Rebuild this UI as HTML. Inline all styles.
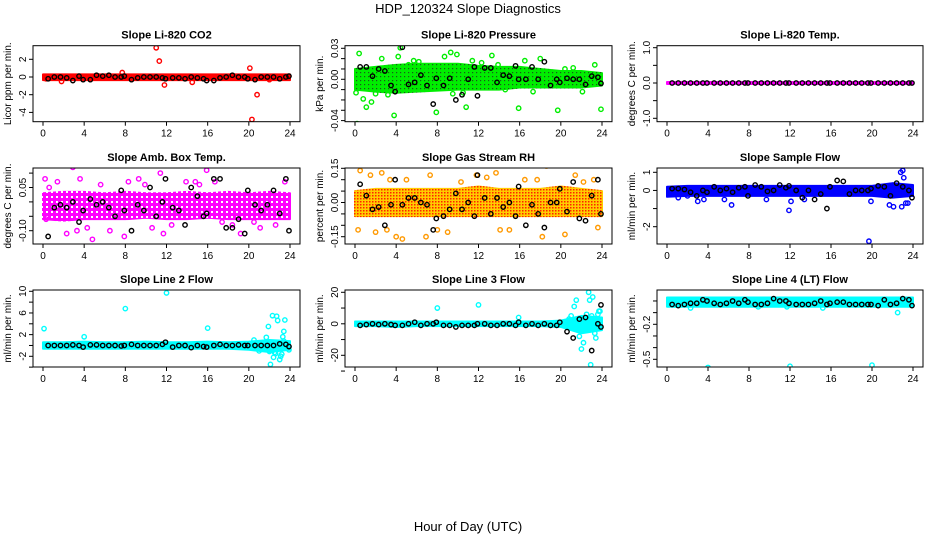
<!DOCTYPE html>
<html><head><meta charset="utf-8"><style>
body{margin:0;background:#fff}
svg{display:block;font-family:"Liberation Sans",Arial,sans-serif}
</style></head><body>
<svg id="chart" width="936" height="540" viewBox="0 0 936 540">
<defs>
<pattern id="pat-green" width="4" height="4" patternUnits="userSpaceOnUse"><rect width="4" height="4" fill="#00ee00"/><rect x="0" y="0" width="1.2" height="1.2" fill="#1a5a1a"/></pattern>
<pattern id="pat-mag" width="5" height="5" patternUnits="userSpaceOnUse"><rect width="5" height="5" fill="#ff00ff"/><rect x="1" y="1" width="2" height="2" fill="#fff"/></pattern>
<pattern id="pat-rh" width="3" height="3" patternUnits="userSpaceOnUse"><rect width="3" height="3" fill="#ffcc00"/><rect x="0" y="0" width="1.5" height="1.5" fill="#ff2200"/></pattern>
</defs>
<rect width="936" height="540" fill="#fff"/>
<text x="468" y="13" text-anchor="middle" font-size="13">HDP_120324  Slope Diagnostics</text>
<text x="468" y="531" text-anchor="middle" font-size="13">Hour of Day (UTC)</text>
</svg>
<script>
const blackHours=[0.5,1.1,1.7,2.3,2.9,3.5,3.9,4.6,5.2,5.8,6.4,7.0,7.6,7.9,8.6,9.2,9.8,10.4,11.0,11.6,11.9,12.6,13.2,13.8,14.4,15.0,15.6,15.9,16.6,17.2,17.8,18.4,19.0,19.6,19.9,20.6,21.2,21.8,22.4,23.0,23.6,23.9];
const bandHours=[0,2,4,6,8,10,12,14,16,18,20,22,24];
const xTicks=[0,4,8,12,16,20,24];

const co2Black=[-0.2,0,0,-0.1,-0.4,0.1,-0.3,-0.3,0.2,0.1,0.2,0,0,0.1,-0.3,-0.1,0,0,0,-0.1,-0.2,-0.1,-0.1,-0.2,0,-0.1,-0.2,-0.4,-0.4,-0.1,0,0.2,0,0,-0.2,-0.3,0,0,0,-0.2,0,0.1];
const co2Lo=[-0.35,-0.35,-0.35,-0.35,-0.35,-0.35,-0.35,-0.35,-0.35,-0.35,-0.35,-0.35,-0.35];
const co2Hi=[0.3,0.3,0.3,0.3,0.3,0.3,0.3,0.3,0.3,0.3,0.3,0.3,0.3];
const co2OutX=[11.0,11.3,11.8,20.1,20.8,20.3,1.8,14.5,7.7,22.0,0.3];
const co2OutY=[3.3,1.8,-0.9,1.0,-2.0,-4.8,-0.5,-0.6,0.5,-0.3,-0.2];

const presBlack=[0.012,0.012,0.003,0.01,0.008,-0.006,-0.012,0.031,-0.005,-0.003,0.004,-0.006,-0.024,0.001,-0.006,0.001,-0.02,-0.015,0.0,0.012,-0.016,0.011,0.011,-0.003,0.004,0.003,0.013,0.0,0.0,0.012,0.0,0.017,-0.006,0.0,-0.003,0.001,0.0,0.0,-0.005,0.003,0.002,-0.004];
const presLo=[-0.01,-0.012,-0.013,-0.012,-0.011,-0.01,-0.01,-0.01,-0.008,-0.008,-0.008,-0.008,-0.006];
const presHi=[0.01,0.012,0.014,0.015,0.015,0.015,0.013,0.012,0.012,0.01,0.008,0.008,0.006];
const presOutX=[0.2,0.4,0.8,1.1,1.6,2.6,3.2,3.8,4.2,4.4,5.7,7.0,7.9,8.7,9.3,9.9,10.8,11.4,12.3,13.3,15.9,16.5,18.0,19.7,20.4,22.1,23.3,23.9,0.1,5.2,9.5,14.6,2.0,6.2,10.5,13.9,17.3,21.2];
const presOutY=[-0.043,0.025,-0.019,-0.027,-0.022,0.02,-0.015,-0.035,0.022,0.0305,0.018,0.01,-0.032,0.022,0.026,0.024,-0.027,0.018,0.016,0.023,-0.028,0.018,0.02,-0.03,0.01,-0.012,0.014,-0.029,-0.013,0.014,-0.014,-0.01,-0.014,0.017,-0.013,0.014,-0.012,0.011];

const tempBlack=[0,0,0,0,0,0,0,0,0,0,0,0,0,0,0,0,0,0,0,0,0,0,0,0,0,0,0,0,0,0,0,0,0,0,0,0,0,0,0,0,0,0];
const tempLo=[-0.03,-0.03,-0.03,-0.03,-0.03,-0.03,-0.03,-0.03,-0.03,-0.03,-0.03,-0.03,-0.03];
const tempHi=[0.03,0.03,0.03,0.03,0.03,0.03,0.03,0.03,0.03,0.03,0.03,0.03,0.03];
const tempOutX=[];
const tempOutY=[];

const ambBlack=[-0.12,-0.02,-0.01,-0.02,0.0,-0.07,-0.03,0.01,-0.01,0.0,-0.02,-0.05,0.04,-0.03,-0.1,-0.01,-0.03,0.05,-0.05,0.0,0.08,-0.02,-0.03,-0.08,0.05,0.02,-0.05,-0.04,0.08,0.08,-0.09,-0.09,-0.06,-0.11,0.04,-0.01,-0.03,-0.01,0.04,-0.04,0.08,-0.1];
const ambLo=[-0.06,-0.065,-0.06,-0.06,-0.06,-0.055,-0.06,-0.06,-0.055,-0.06,-0.06,-0.06,-0.06];
const ambHi=[0.03,0.035,0.035,0.03,0.035,0.03,0.03,0.035,0.03,0.035,0.03,0.035,0.03];
const ambOutX=[0.2,0.6,1.4,2.3,2.9,3.3,3.6,4.3,4.8,6.5,7.9,8.3,9.3,10.6,11.4,11.7,12.5,13.9,14.8,15.9,16.7,17.4,18.4,19.2,20.5,21.1,22.6,23.5,5.6,9.9,15.2,0.3];
const ambOutY=[0.08,0.05,0.07,-0.11,0.12,-0.1,0.08,-0.09,-0.13,-0.1,-0.12,0.07,0.08,-0.09,0.1,-0.11,-0.08,0.07,0.07,0.11,0.07,-0.07,-0.08,-0.11,-0.07,-0.09,-0.08,0.07,0.06,0.06,0.06,-0.06];

const rhBlack=[0.08,0.03,-0.03,-0.02,-0.1,-0.01,0.1,-0.01,0.02,0.02,0.0,-0.01,-0.12,-0.07,-0.06,-0.03,0.04,-0.03,0.0,-0.06,0.12,0.02,-0.05,0.02,-0.02,0.0,-0.06,0.07,-0.1,-0.01,-0.05,-0.11,0.0,0.0,0.06,-0.04,0.09,-0.07,-0.08,0.03,0.1,-0.05];
const rhLo=[-0.06,-0.06,-0.06,-0.06,-0.06,-0.06,-0.06,-0.06,-0.06,-0.06,-0.06,-0.06,-0.06];
const rhHi=[0.05,0.06,0.06,0.06,0.06,0.06,0.07,0.06,0.06,0.06,0.07,0.06,0.05];
const rhOutX=[0.3,0.5,1.5,2.0,2.6,3.1,3.4,4.0,4.6,5.0,6.9,7.3,8.0,9.0,10.3,11.8,12.8,13.7,14.1,15.0,16.5,16.6,17.7,18.2,18.6,20.4,21.4,22.2,23.2,23.6];
const rhOutY=[-0.12,0.14,0.12,-0.13,0.13,-0.12,0.1,-0.15,-0.16,0.1,-0.15,0.12,-0.12,-0.13,0.09,0.12,0.11,0.13,-0.12,-0.12,0.1,-0.21,0.1,-0.15,0.16,-0.14,0.12,0.09,0.1,-0.11];

const sfBlack=[0.1,0.1,0.05,-0.1,-0.3,0.0,-0.1,0.2,0.0,0.1,-0.1,0.15,0.2,-0.3,0.3,0.2,-0.05,0.0,0.3,0.15,0.25,0.0,-0.4,0.0,-0.5,-0.2,-1.0,0.2,0.55,0.5,-0.2,0.0,0.0,0.0,0.1,0.25,0.2,-0.3,0.4,0.2,0.0,-0.4];
const sfLo=[-0.35,-0.3,-0.3,-0.3,-0.3,-0.3,-0.3,-0.3,-0.3,-0.3,-0.3,-0.4,-0.3];
const sfHi=[0.2,0.25,0.25,0.25,0.25,0.25,0.25,0.25,0.25,0.25,0.25,0.4,0.3];
const sfOutX=[3.0,3.6,5.6,6.3,9.7,11.9,12.1,13.4,19.7,19.9,21.7,22.1,22.8,22.9,23.1,23.0,23.3,23.5,1.1,2.0];
const sfOutY=[-0.6,-0.5,-0.5,-0.8,-0.5,-1.1,-0.6,-0.5,-2.8,-0.6,-0.8,-0.9,1.0,-0.9,0.7,1.1,-0.7,-0.7,-0.4,-0.3];

const l2Black=[0,0,0,0,0.1,0,-0.3,0.1,0.1,0,0,0,-0.1,0,0.2,0,0,0,0,0.2,0.6,-0.3,0,0,-0.4,0,-0.2,-0.3,0,0.2,0,0,0.1,0,0,0,0,0,0,0.3,0.2,-0.2];
const l2Lo=[-0.6,-0.6,-0.6,-0.6,-0.6,-0.6,-0.6,-0.6,-0.6,-0.6,-0.8,-1.2,-0.8];
const l2Hi=[0.6,0.6,0.7,0.6,0.6,0.7,0.6,0.6,0.7,0.6,0.7,1.0,0.8];
const l2OutX=[0.1,4.0,8.0,12.0,16.0,20.5,21.7,21.9,22.1,22.3,22.4,22.6,22.7,22.8,23.0,23.1,23.3,23.4,23.5,23.4,23.7,23.9,22.5,22.9,23.2,22.0,21.0];
const l2OutY=[3.1,1.6,6.8,9.7,3.2,1.0,1.5,3.5,-3.5,5.5,-2.2,-1.5,5.4,4.6,-2.6,-2.0,1.6,2.6,4.7,0.8,-0.2,-0.8,-1.3,0.3,-1.6,-1.1,-1.0];

const l3Black=[-1,-0.5,0,-0.5,0,-0.5,-1,-1,0,1,-1,0,0,1,-1,-1,-2,-1,-1,-1,0,0,-1,-1,0,0,-1,1,-1,0,-1,0,-1,-1,1,-5,-9,3,4,-17,0,-2];
const l3Lo=[-1.5,-1.5,-2,-1.5,-1.5,-1.5,-1.5,-1.5,-1.5,-1.5,-2,-6,-4];
const l3Hi=[1.5,1.5,1.5,1.5,1.5,1.5,1.5,1.5,1.5,1.5,2,5,4];
const l3OutX=[8.0,12.0,15.9,21.0,21.3,21.5,21.8,22.0,22.2,22.5,22.7,22.8,22.9,23.0,23.1,23.3,23.4,23.6,23.7,23.8,21.6,22.3,20.8];
const l3OutY=[10,12,4,5,11,15,-8,-16,-12,6,20,15,-26,5,17,-6,-9,6,8,8,-2,-4,3];

const l4Black=[-0.03,-0.04,-0.03,-0.02,-0.02,0.01,0,-0.02,-0.03,-0.02,0.0,-0.02,0.01,-0.01,-0.03,-0.03,-0.02,0.02,0.0,0.0,-0.02,-0.03,-0.03,-0.03,-0.02,0.0,-0.03,-0.02,-0.01,-0.01,-0.03,-0.03,-0.03,-0.03,-0.03,-0.04,0.01,-0.03,-0.02,0.02,0.01,-0.04];
const l4Lo=[-0.05,-0.05,-0.05,-0.05,-0.05,-0.05,-0.05,-0.05,-0.05,-0.05,-0.05,-0.05,-0.05];
const l4Hi=[0.03,0.03,0.03,0.03,0.03,0.03,0.03,0.03,0.03,0.03,0.03,0.03,0.03];
const l4OutX=[2.3,4.0,12.0,20.0,22.5,11.7,15.2,8.9];
const l4OutY=[-0.06,-0.57,-0.56,-0.55,-0.1,-0.05,-0.06,-0.05];

const NS='http://www.w3.org/2000/svg';
const svg=document.getElementById('chart');
function mk(tag,attrs,parent){const e=document.createElementNS(NS,tag);for(const k in attrs)e.setAttribute(k,attrs[k]);(parent||svg).appendChild(e);return e;}

const colL=[33,345,657],colR=[300,612,923],colX0=[43,355,667],colX24=[290,602,913];
const rowT=[45.7,168,290],rowB=[121.7,244,367];

const panels=[
 ['Slope Li-820 CO2','Licor ppm per min.',0,0,0,77,2,59.3,[-4,-2,0,2],['-4','-2','0','2'],'#ff0000','#ff0000',co2Black,co2Lo,co2Hi,co2OutX,co2OutY,'co2'],
 ['Slope Li-820 Pressure','kPa per min.',1,0,0.03,48.3,-0.04,120.6,[-0.04,-0.03,-0.02,-0.01,0,0.01,0.02,0.03],['-0.04','','','','0.00','','','0.03'],'#00ee00','url(#pat-green)',presBlack,presLo,presHi,presOutX,presOutY,'pressure'],
 ['Slope Li-820 Temp.','degrees C per min.',2,0,1,47.7,-1,118.3,[-1,-0.5,0,0.5,1],['-1.0','','0.0','','1.0'],'#ff00ff','#ff00ff',tempBlack,tempLo,tempHi,tempOutX,tempOutY,'temp'],
 ['Slope Amb. Box Temp.','degrees C per min.',0,1,0.05,187.5,-0.1,230.7,[-0.1,-0.05,0,0.05,0.1],['-0.10','','','0.05',''],'#ff00ff','url(#pat-mag)',ambBlack,ambLo,ambHi,ambOutX,ambOutY,'amb-temp'],
 ['Slope Gas Stream RH','percent per min.',1,1,0.15,168.3,-0.15,236.7,[-0.15,-0.1,-0.05,0,0.05,0.1,0.15],['-0.15','','','0.00','','','0.15'],'#ff9900','url(#pat-rh)',rhBlack,rhLo,rhHi,rhOutX,rhOutY,'rh'],
 ['Slope Sample Flow','ml/min per min.',2,1,1,172.3,-2,226.7,[-2,-1,0,1],['-2','','0','1'],'#0000ff','#0000ff',sfBlack,sfLo,sfHi,sfOutX,sfOutY,'sample-flow'],
 ['Slope Line 2 Flow','ml/min per min.',0,2,10,291.3,-2,356.3,[-4,-2,0,2,4,6,8,10],['','-2','','2','','6','','10'],'#00ffff','#00ffff',l2Black,l2Lo,l2Hi,l2OutX,l2OutY,'line2-flow'],
 ['Slope Line 3 Flow','ml/min per min.',1,2,20,292.3,-20,355.3,[-30,-20,-10,0,10,20],['','-20','','0','','20'],'#00ffff','#00ffff',l3Black,l3Lo,l3Hi,l3OutX,l3OutY,'line3-flow'],
 ['Slope Line 4 (LT) Flow','ml/min per min.',2,2,-0.2,324.3,-0.5,359.3,[-0.5,-0.4,-0.3,-0.2,-0.1,0],['-0.5','','','-0.2','',''],'#00ffff','#00ffff',l4Black,l4Lo,l4Hi,l4OutX,l4OutY,'line4-flow']
];

panels.forEach(p=>{
 const [title,ylab,c,r,v1,p1,v2,p2,ticks,labs,color,fillc,blk,lo,hi,ox,oy,nm]=p;
 const L=colL[c],R=colR[c],T=rowT[r],B=rowB[r];
 const xs=h=>colX0[c]+(colX24[c]-colX0[c])*h/24;
 const ys=v=>p1+(v-v1)*(p2-p1)/(v2-v1);
 const g=mk('g',{});
 
 
 const cp=mk('clipPath',{id:'cp'+nm},g);mk('rect',{x:L,y:T,width:R-L,height:B-T},cp);
 const plot=mk('g',{'clip-path':'url(#cp'+nm+')'},g);
 let pts=bandHours.map((h,i)=>xs(h)+','+ys(hi[i]));
 pts=pts.concat(bandHours.slice().reverse().map((h,i)=>xs(h)+','+ys(lo[lo.length-1-i])));
 const band=mk('polygon',{points:pts.join(' '),fill:fillc,stroke:fillc,'stroke-width':2,'stroke-linejoin':'round'},plot);
 
 
 ox.forEach((h,i)=>{
  const e=mk('circle',{cx:xs(h),cy:ys(oy[i]),r:2.2,fill:'none',stroke:color,'stroke-width':1.4},plot);
  
  
 });
 blk.forEach((v,i)=>{
  const e=mk('circle',{cx:xs(blackHours[i]),cy:ys(v),r:2.2,fill:'none',stroke:'#000','stroke-width':1.4},plot);
  
  
 });
 if(nm==='line3-flow'){
  const e=mk('circle',{cx:xs(23.9),cy:ys(12),r:2.2,fill:'none',stroke:'#000','stroke-width':1.4},plot);
  
  
 }
 const box=mk('rect',{x:L,y:T,width:R-L,height:B-T,fill:'none',stroke:'#000','stroke-width':1},g);
 
 
 const tt=mk('text',{x:(L+R)/2,y:T-7,'text-anchor':'middle','font-size':11,'font-weight':'bold'},g);
 tt.textContent=title;
 
 
 xTicks.forEach(h=>{
  mk('line',{x1:xs(h),x2:xs(h),y1:B,y2:B+4,stroke:'#000'},g);
  const t=mk('text',{x:xs(h),y:B+15,'text-anchor':'middle','font-size':10},g);
  t.textContent=h;
  
  
 });
 ticks.forEach((v,i)=>{
  const y=ys(v);
  mk('line',{x1:L-4,x2:L,y1:y,y2:y,stroke:'#000'},g);
  if(labs[i]){
   const t=mk('text',{x:L-7,y:y,'text-anchor':'middle','font-size':10,transform:'rotate(-90 '+(L-7)+' '+y+')'},g);
   t.textContent=labs[i];
   
   
  }
 });
 const yl=mk('text',{x:L-22,y:(T+B)/2,'text-anchor':'middle','font-size':10,transform:'rotate(-90 '+(L-22)+' '+(T+B)/2+')'},g);
 yl.textContent=ylab;
 
 
});
</script>
</body></html>
